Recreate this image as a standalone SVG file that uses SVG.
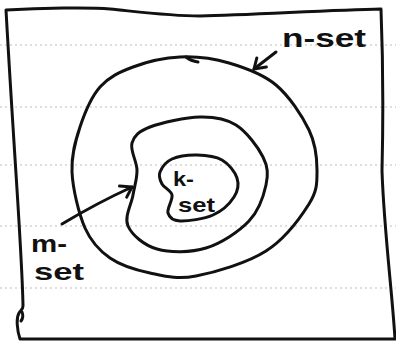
<svg xmlns="http://www.w3.org/2000/svg" width="396" height="343" viewBox="0 0 396 343">
  <defs>
    <style>
      .ink { fill: none; stroke: #111; stroke-width: 3; stroke-linecap: round; stroke-linejoin: round; }
      .rule { fill: none; stroke: #bdbdbd; stroke-width: 1; stroke-dasharray: 2 3; }
      .hand { font-family: "Liberation Sans", "DejaVu Sans", sans-serif; font-weight: bold; fill: #111; }
    </style>
    <marker id="vhead" markerUnits="userSpaceOnUse" markerWidth="20" markerHeight="20" refX="0" refY="0" viewBox="-14 -10 16 20" orient="auto" overflow="visible">
      <path d="M -11,-6 L 0,0 L -9,7" fill="none" stroke="#111" stroke-width="3" stroke-linecap="round" stroke-linejoin="round"/>
    </marker>
  </defs>
  <rect width="396" height="343" fill="#fff"/>

  <g id="ruled-lines">
    <line class="rule" x1="0" y1="45" x2="396" y2="45"/>
    <line class="rule" x1="0" y1="107" x2="396" y2="107"/>
    <line class="rule" x1="0" y1="165" x2="396" y2="165"/>
    <line class="rule" x1="0" y1="226" x2="396" y2="226"/>
    <line class="rule" x1="0" y1="288" x2="396" y2="288"/>
  </g>

  <g id="frame">
    <path class="ink" d="M 6,10 C 40,8 90,7 110,9 C 140,12 170,16 200,16 C 250,15 330,10 381,9 C 383,60 383,130 382,171 C 384,230 392,290 395,339 L 20,339 C 17,330 16,318 19,313 C 21,310 23,309 23,306 C 22,250 15,170 6,10 Z"/>
    <path class="ink" d="M 22,312 Q 24,317 21,321"/>
  </g>

  <g id="n-set">
    <path class="ink" d="M 72,172 C 71.2,155.2 75.3,141.2 80,127 C 84.7,112.8 91.2,97 100,87 C 108.8,77 119.7,72 133,67 C 146.3,62 164,57.7 180,57 C 196,56.3 213,58.3 229,63 C 245,67.7 262.7,73.8 276,85 C 289.3,96.2 302.2,115.8 309,130 C 315.8,144.2 317,157.7 317,170 C 317,182.3 317.5,190.5 309,204 C 300.5,217.5 284.8,239 266,251 C 247.2,263 215.3,272.3 196,276 C 176.7,279.7 164.3,276 150,273 C 135.7,270 120.8,265.5 110,258 C 99.2,250.5 91.3,242.3 85,228 C 78.7,213.7 72.8,188.8 72,172 Z"/>
    <path class="ink" d="M 186,57 Q 191,61 198,62"/>
    <text class="hand" x="282" y="47" font-size="26" textLength="84" lengthAdjust="spacingAndGlyphs">n-set</text>
  </g>

  <g id="m-set">
    <path class="ink" d="M 132,143 C 134.2,135.8 138.7,131.3 150,127 C 161.3,122.7 185.7,117.3 200,117 C 214.3,116.7 225.5,118.3 236,125 C 246.5,131.7 258,147 263,157 C 268,167 268.3,174.3 266,185 C 263.7,195.7 259,210.5 249,221 C 239,231.5 221.3,243.3 206,248 C 190.7,252.7 170,252.7 157,249 C 144,245.3 132,235 128,226 C 124,217 131.5,204.3 133,195 C 134.5,185.7 137.2,178.7 137,170 C 136.8,161.3 129.8,150.2 132,143 Z"/>
    <text class="hand" x="31" y="252" font-size="24" textLength="36" lengthAdjust="spacingAndGlyphs">m-</text>
    <text class="hand" x="34" y="280" font-size="24" textLength="50" lengthAdjust="spacingAndGlyphs">set</text>
  </g>

  <g id="k-set">
    <path class="ink" d="M 160,172 C 161.7,167.8 165.8,161.8 172,159 C 178.2,156.2 188.7,154.8 197,155 C 205.3,155.2 215.3,156.2 222,160 C 228.7,163.8 235,171.8 237,178 C 239,184.2 238,190.8 234,197 C 230,203.2 222,211 213,215 C 204,219 187.5,221.3 180,221 C 172.5,220.7 169.3,217.3 168,213 C 166.7,208.7 173,199.8 172,195 C 171,190.2 164,187.8 162,184 C 160,180.2 158.3,176.2 160,172 Z"/>
    <text class="hand" x="173" y="186" font-size="21" textLength="21" lengthAdjust="spacingAndGlyphs">k-</text>
    <text class="hand" x="178" y="212" font-size="21" textLength="37" lengthAdjust="spacingAndGlyphs">set</text>
  </g>

  <g id="connectors">
    <path class="ink" d="M 276,52 L 254,69" marker-end="url(#vhead)"/>
    <path class="ink" d="M 62,224 Q 97,203 132,187" marker-end="url(#vhead)"/>
  </g>
</svg>
